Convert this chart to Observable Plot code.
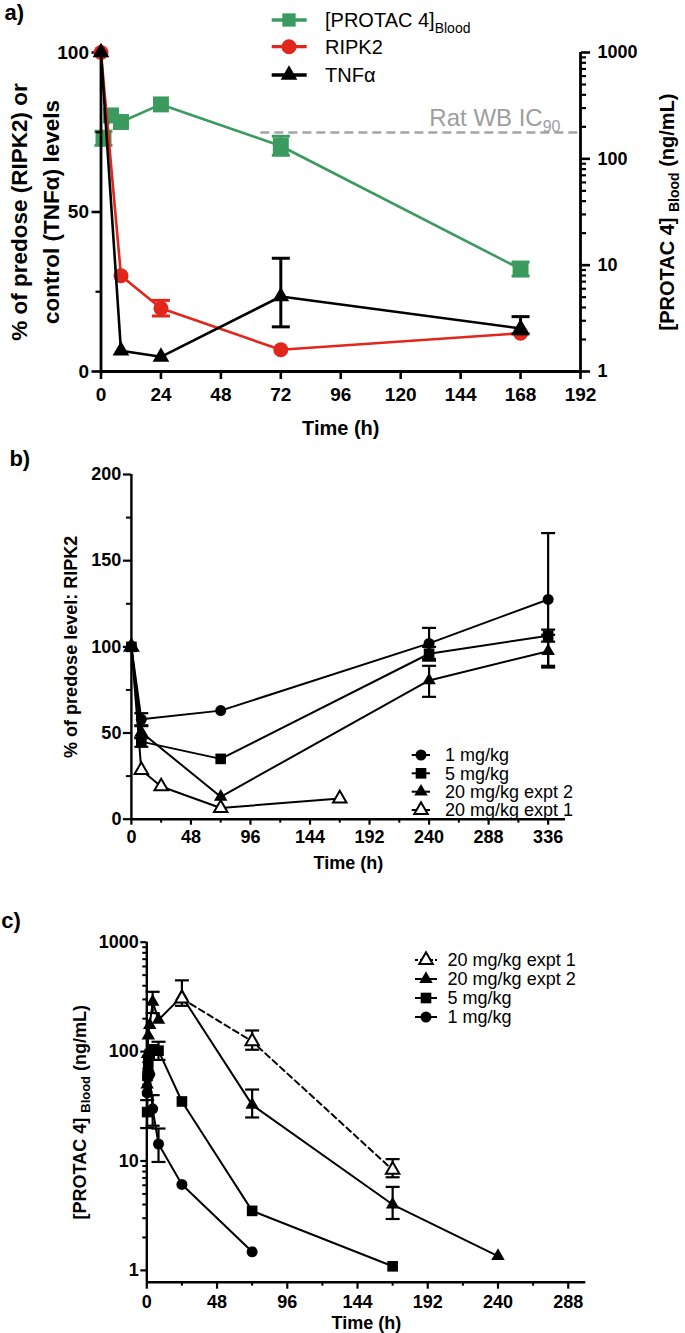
<!DOCTYPE html>
<html><head><meta charset="utf-8">
<script src="https://cdn.jsdelivr.net/npm/d3@7"></script>
<script src="https://cdn.jsdelivr.net/npm/@observablehq/plot@0.6"></script>
<style>
html,body{margin:0;padding:0;background:#fff;overflow:hidden}
#root{position:relative;width:685px;height:1333px;background:#fff}
</style></head>
<body><div id="root"></div>
<script>
// ---------- Panel a data ----------
const aTimes = [0, 8, 24, 72, 168];
const aRipk2 = [100, 30, 19.8, 6.8, 12];
const aRipk2Lo = [null, null, 17.4, null, null];
const aRipk2Hi = [null, null, 22.3, null, null];
const aTnf = [100, 6.5, 4.6, 23.5, 13.5];
const aTnfLo = [null, null, null, 14, 11.8];
const aTnfHi = [null, null, null, 35.5, 17.2];
const aProtacTimes = [1, 4, 8, 24, 72, 168];
const aProtac = [157, 256, 222, 325, 132, 9.2];
const aProtacLo = [134, null, null, null, 108, 7.9];
const aProtacHi = [182, null, null, null, 163, 10.7];
const aIC90 = 177;
const aIC90From = 64;
const aXTicks = [0, 24, 48, 72, 96, 120, 144, 168, 192];
const aYTicks = [0, 50, 100];
const aYMinor = [25, 75];
const aLogTicks = [1, 10, 100, 1000];
const aLogMinor = [2,3,4,5,6,7,8,9,20,30,40,50,60,70,80,90,200,300,400,500,600,700,800,900];
const aLegendLabels = ["[PROTAC 4]", "RIPK2", "TNFα"];

// ---------- Panel b data ----------
const bTimes = [0, 8, 72, 240, 336];
const b1 = [100, 58, 63, 102, 127.5];
const b1Lo = [null, 54.5, null, 93, 89];
const b1Hi = [null, 61.5, null, 111, 166];
const b5 = [100, 45, 35, 96, 106.5];
const b5Lo = [null, 42, null, 92, 103];
const b5Hi = [null, 47.5, null, 100, 110];
const b20e2 = [100, 50.5, 13, 80.5, 97.5];
const b20e2Lo = [null, 47, null, 71, 88];
const b20e2Hi = [null, 54, null, 89, 107];
const bTimesE1 = [0, 8, 24, 72, 168];
const b20e1 = [100, 28.5, 19, 6.5, 12];
const bXTicks = [0, 48, 96, 144, 192, 240, 288, 336];
const bXMinor = [24, 72, 120, 168, 216, 264, 312];
const bYTicks = [0, 50, 100, 150, 200];
const bYMinor = [25, 75, 125, 175];
const bLegendLabels = ["1 mg/kg", "5 mg/kg", "20 mg/kg expt 2", "20 mg/kg expt 1"];

// ---------- Panel c data ----------
const cTimesE1 = [24, 72, 168];
const c20e1 = [305, 124, 8.3];
const c20e1Lo = [null, 104, 7.1];
const c20e1Hi = [null, 156, 10.4];
const cTimesE2 = [0.25, 0.5, 1, 2, 4, 8, 24, 72, 168, 240];
const c20e2 = [50, 95, 140, 175, 285, 195, 320, 32.6, 4.0, 1.35];
const c20e2Lo = [null, null, null, null, 225, null, 262, 25, 2.95, null];
const c20e2Hi = [null, null, null, null, 352, null, 448, 45, 5.8, null];
const cTimes5 = [0.25, 0.5, 1, 2, 4, 8, 24, 72, 168];
const c5 = [28, 60, 80, 95, 105, 102, 35, 3.5, 1.09];
const c5Lo = [20, null, null, null, null, 84, null, null, null];
const c5Hi = [36, null, null, null, null, 123, null, null, null];
const cTimes1 = [0.25, 0.5, 1, 2, 4, 8, 24, 72];
const c1 = [42, 58, 68, 62, 30, 14.3, 6.1, 1.48];
const c1Lo = [null, null, null, null, 21, 9.8, null, null];
const c1Hi = [null, null, null, null, 40, 19.8, null, null];
const cXTicks = [0, 48, 96, 144, 192, 240, 288];
const cXMinor = [24, 72, 120, 168, 216, 264];
const cYTicks = [1, 10, 100, 1000];
const cYMinor = [2,3,4,5,6,7,8,9,20,30,40,50,60,70,80,90,200,300,400,500,600,700,800,900];
const cLegendLabels = ["20 mg/kg expt 1", "20 mg/kg expt 2", "5 mg/kg", "1 mg/kg"];

// ---------- helpers ----------
const FONT = '"Liberation Sans", Arial, Helvetica, sans-serif';
const GREEN = "#3b9b5f";
const RED = "#e1261c";
const DASHGREY = "#a5a5a5";
const STYLE = {fontFamily: FONT, fontWeight: "bold", color: "black", background: "transparent", overflow: "visible"};
const root = document.getElementById("root");

function rows(times, vals, lo, hi) {
  return times.map((t, i) => ({t, v: vals[i], lo: lo ? lo[i] : null, hi: hi ? hi[i] : null}));
}
const CAP = {draw(ctx, size) { const w = Math.sqrt(size / Math.PI); ctx.moveTo(-w, 0); ctx.lineTo(w, 0); }};
function errMarks(data, {stroke = "black", strokeWidth = 2.2, half = 7} = {}) {
  const e = data.filter(d => d.lo != null && d.hi != null);
  return [
    Plot.link(e, {x1: "t", x2: "t", y1: "lo", y2: "hi", stroke, strokeWidth}),
    Plot.dot(e, {x: "t", y: "lo", symbol: CAP, r: half, stroke, strokeWidth, fill: "none"}),
    Plot.dot(e, {x: "t", y: "hi", symbol: CAP, r: half, stroke, strokeWidth, fill: "none"})
  ];
}
function place(svg, top) {
  svg.style.position = "absolute";
  svg.style.left = "0px";
  svg.style.top = top + "px";
  root.appendChild(svg);
}
// add subscript tspans to a text element found by its content
function subscript(svg, content, parts) {
  d3.select(svg).selectAll("text").filter(function() {
    return this.textContent.trim() === content;
  }).each(function() {
    const t = d3.select(this);
    t.selectAll("*").remove();
    t.text(null);
    parts.forEach(p => {
      const s = t.append("tspan").text(p.text);
      if (p.size) s.attr("font-size", p.size);
      if (p.dy) s.attr("dy", p.dy);
    });
  });
}

// ---------- Panel a ----------
const aR = rows(aTimes, aRipk2, aRipk2Lo, aRipk2Hi);
const aT = rows(aTimes, aTnf, aTnfLo, aTnfHi);
const aP = rows(aProtacTimes, aProtac, aProtacLo, aProtacHi);
const aMarg = {width: 685, height: 445, marginLeft: 100.5, marginRight: 105, marginTop: 52, marginBottom: 74};

const aLog = Plot.plot({
  ...aMarg, style: STYLE,
  x: {domain: [0, 192], axis: null},
  y: {type: "log", domain: [1, 1000]},
  marks: [
    Plot.axisY({anchor: "right", ticks: aLogMinor, tickSize: 5, tickFormat: () => "", strokeWidth: 2.2, label: null}),
    Plot.axisY({anchor: "right", ticks: aLogTicks, tickSize: 9, tickPadding: 8, tickFormat: d => String(d), strokeWidth: 2.6, fontSize: 18, label: null}),
    Plot.ruleX([192], {strokeWidth: 2.8}),
    Plot.ruleY([aIC90], {x1: aIC90From, x2: 192, stroke: DASHGREY, strokeWidth: 2.6, strokeDasharray: "9,5"}),
    Plot.text([{t: 192, v: aIC90}], {x: "t", y: "v", text: () => "Rat WB IC", dx: -20, dy: -6.5, textAnchor: "end", lineAnchor: "bottom", fill: "#9e9e9e", fontSize: 24, fontWeight: "normal"}),
    Plot.line(aP, {x: "t", y: "v", stroke: GREEN, strokeWidth: 2.6}),
    ...errMarks(aP, {stroke: GREEN, strokeWidth: 3, half: 9}),
    Plot.dot(aP, {x: "t", y: "v", symbol: "square", r: 9, fill: GREEN}),
    Plot.text(["[PROTAC 4]"], {text: d => d, frameAnchor: "right", dx: 87, rotate: -90, textAnchor: "middle", lineAnchor: "middle", fontSize: 20})
  ]
});
subscript(aLog, "Rat WB IC", [{text: "Rat WB IC"}, {text: "90", size: 16, dy: 6}]);
subscript(aLog, "[PROTAC 4]", [{text: "[PROTAC 4] "}, {text: "Blood", size: 14, dy: 5}, {text: " (ng/mL)", size: 20, dy: -5}]);
place(aLog, 0);

const aLin = Plot.plot({
  ...aMarg, style: STYLE,
  x: {domain: [0, 192]},
  y: {domain: [0, 100]},
  marks: [
    Plot.axisY({ticks: aYMinor, tickSize: 5, tickFormat: () => "", strokeWidth: 2.2, label: null}),
    Plot.axisY({ticks: aYTicks, tickSize: 9, tickPadding: 3, strokeWidth: 2.6, fontSize: 19, label: null}),
    Plot.axisX({ticks: aXTicks, tickSize: 8, tickPadding: 8, strokeWidth: 2.6, fontSize: 19, label: null}),
    Plot.ruleX([0], {strokeWidth: 2.8}),
    Plot.ruleY([0], {strokeWidth: 2.8}),
    Plot.line(aR, {x: "t", y: "v", stroke: RED, strokeWidth: 2.6}),
    ...errMarks(aR, {stroke: RED, strokeWidth: 3, half: 9}),
    Plot.dot(aR, {x: "t", y: "v", symbol: "circle", r: 7.5, fill: RED}),
    Plot.line(aT, {x: "t", y: "v", stroke: "black", strokeWidth: 2.6}),
    ...errMarks(aT, {stroke: "black", strokeWidth: 3, half: 9}),
    Plot.dot(aT, {x: "t", y: "v", symbol: "triangle", r: 6.2, fill: "black"}),
    Plot.text(["a)"], {text: d => d, frameAnchor: "top-left", dx: -96.5, dy: -40, fontSize: 22, textAnchor: "start", lineAnchor: "middle"}),
    Plot.text(["Time (h)"], {text: d => d, frameAnchor: "bottom", dy: 57, fontSize: 20, lineAnchor: "middle"}),
    Plot.text(["% of predose (RIPK2) or\ncontrol (TNFα) levels"], {text: d => d, frameAnchor: "left", dx: -68, rotate: -90, fontSize: 22.5, lineHeight: 1.4, lineAnchor: "middle", textAnchor: "middle"})
  ]
});
place(aLin, 0);

// ---------- Panel b ----------
const bR1 = rows(bTimes, b1, b1Lo, b1Hi);
const bR5 = rows(bTimes, b5, b5Lo, b5Hi);
const bR20 = rows(bTimes, b20e2, b20e2Lo, b20e2Hi);
const bRE1 = rows(bTimesE1, b20e1);
const bPlot = Plot.plot({
  width: 685, height: 430, marginLeft: 130.9, marginRight: 120, marginTop: 29, marginBottom: 56.3,
  style: STYLE,
  x: {domain: [0, 350]},
  y: {domain: [0, 200]},
  marks: [
    Plot.axisY({ticks: bYMinor, tickSize: 5, tickFormat: () => "", strokeWidth: 2, label: null}),
    Plot.axisY({ticks: bYTicks, tickSize: 8, tickPadding: 2, strokeWidth: 2.2, fontSize: 18, label: null}),
    Plot.axisX({ticks: bXMinor, tickSize: 4, tickFormat: () => "", strokeWidth: 2, label: null}),
    Plot.axisX({ticks: bXTicks, tickSize: 6, tickPadding: 5, strokeWidth: 2.2, fontSize: 18, label: null}),
    Plot.ruleX([0], {strokeWidth: 2.4}),
    Plot.ruleY([0], {strokeWidth: 2.4}),
    Plot.line(bRE1, {x: "t", y: "v", stroke: "black", strokeWidth: 2}),
    Plot.line(bR20, {x: "t", y: "v", stroke: "black", strokeWidth: 2}),
    Plot.line(bR5, {x: "t", y: "v", stroke: "black", strokeWidth: 2}),
    Plot.line(bR1, {x: "t", y: "v", stroke: "black", strokeWidth: 2}),
    ...errMarks(bR1, {strokeWidth: 2.2, half: 7}),
    ...errMarks(bR5, {strokeWidth: 2.2, half: 7}),
    ...errMarks(bR20, {strokeWidth: 2.2, half: 7}),
    Plot.dot(bRE1, {x: "t", y: "v", symbol: "triangle", r: 5, fill: "white", stroke: "black", strokeWidth: 2}),
    Plot.dot(bR20, {x: "t", y: "v", symbol: "triangle", r: 5, fill: "black"}),
    Plot.dot(bR5, {x: "t", y: "v", symbol: "square", r: 6, fill: "black"}),
    Plot.dot(bR1, {x: "t", y: "v", symbol: "circle", r: 5.5, fill: "black"}),
    Plot.text(["b)"], {text: d => d, frameAnchor: "top-left", dx: -122, dy: -16, fontSize: 22, textAnchor: "start", lineAnchor: "middle"}),
    Plot.text(["Time (h)"], {text: d => d, frameAnchor: "bottom", dy: 44.3, fontSize: 18, lineAnchor: "middle"}),
    Plot.text(["% of predose level: RIPK2"], {text: d => d, frameAnchor: "left", dx: -60, rotate: -90, fontSize: 18, lineAnchor: "middle", textAnchor: "middle"})
  ]
});
place(bPlot, 445);

// ---------- Panel c ----------
const cRE1 = rows(cTimesE1, c20e1, c20e1Lo, c20e1Hi);
const cRE2 = rows(cTimesE2, c20e2, c20e2Lo, c20e2Hi);
const cR5 = rows(cTimes5, c5, c5Lo, c5Hi);
const cR1 = rows(cTimes1, c1, c1Lo, c1Hi);
const cPlot = Plot.plot({
  width: 685, height: 458, marginLeft: 146.3, marginRight: 99.7, marginTop: 66.7, marginBottom: 51.3,
  style: STYLE,
  x: {domain: [0, 300]},
  y: {type: "log", domain: [0.78, 1000]},
  marks: [
    Plot.axisY({ticks: cYMinor, tickSize: 4, tickFormat: () => "", strokeWidth: 2, label: null}),
    Plot.axisY({ticks: cYTicks, tickSize: 6, tickPadding: 2, tickFormat: d => String(d), strokeWidth: 2.2, fontSize: 18, label: null}),
    Plot.axisX({ticks: cXMinor, tickSize: 4, tickFormat: () => "", strokeWidth: 2, label: null}),
    Plot.axisX({ticks: cXTicks, tickSize: 7, tickPadding: 6, strokeWidth: 2.2, fontSize: 18, label: null}),
    Plot.ruleX([0], {strokeWidth: 2.4}),
    Plot.ruleY([0.78], {strokeWidth: 2.4}),
    Plot.line(cRE1, {x: "t", y: "v", stroke: "black", strokeWidth: 2, strokeDasharray: "6,4"}),
    Plot.line(cRE2, {x: "t", y: "v", stroke: "black", strokeWidth: 2}),
    Plot.line(cR5, {x: "t", y: "v", stroke: "black", strokeWidth: 2}),
    Plot.line(cR1, {x: "t", y: "v", stroke: "black", strokeWidth: 2}),
    ...errMarks(cRE2, {strokeWidth: 2.2, half: 7}),
    ...errMarks(cR5, {strokeWidth: 2.2, half: 7}),
    ...errMarks(cR1, {strokeWidth: 2.2, half: 7}),
    ...errMarks(cRE1, {strokeWidth: 2.2, half: 7}),
    Plot.dot(cR1, {x: "t", y: "v", symbol: "circle", r: 5.5, fill: "black"}),
    Plot.dot(cR5, {x: "t", y: "v", symbol: "square", r: 6, fill: "black"}),
    Plot.dot(cRE2, {x: "t", y: "v", symbol: "triangle", r: 5, fill: "black"}),
    Plot.dot(cRE1, {x: "t", y: "v", symbol: "triangle", r: 5, fill: "white", stroke: "black", strokeWidth: 2}),
    Plot.text(["c)"], {text: d => d, frameAnchor: "top-left", dx: -145.5, dy: -21.7, fontSize: 22, textAnchor: "start", lineAnchor: "middle"}),
    Plot.text(["Time (h)"], {text: d => d, frameAnchor: "bottom", dy: 41.3, fontSize: 18, lineAnchor: "middle"}),
    Plot.text(["[PROTAC 4]"], {text: d => d, frameAnchor: "left", dx: -67, rotate: -90, fontSize: 18, lineAnchor: "middle", textAnchor: "middle"})
  ]
});
subscript(cPlot, "[PROTAC 4]", [{text: "[PROTAC 4] "}, {text: "Blood", size: 13, dy: 4}, {text: " (ng/mL)", size: 18, dy: -4}]);
place(cPlot, 875);

// ---------- Legends (overlay) ----------
const leg = d3.create("svg").attr("width", 685).attr("height", 1333)
  .style("position", "absolute").style("left", "0px").style("top", "0px")
  .style("font-family", FONT).style("pointer-events", "none");
function drawLegend(items, o) {
  items.forEach((it, i) => {
    const y = o.ys[i];
    leg.append("line").attr("x1", o.x0).attr("x2", o.x1).attr("y1", y).attr("y2", y)
      .attr("stroke", it.line).attr("stroke-width", o.lw).attr("stroke-dasharray", it.dash || null);
    leg.append("path").attr("transform", `translate(${o.xm},${y})`)
      .attr("d", d3.symbol().type(it.sym).size(Math.PI * it.r * it.r)())
      .attr("fill", it.fill).attr("stroke", it.stroke || "none").attr("stroke-width", it.sw || 0);
    const t = leg.append("text").attr("x", o.xt).attr("y", y).attr("dy", "0.36em")
      .attr("font-size", o.fs).attr("fill", "black").text(it.label);
    if (it.sub) t.append("tspan").attr("font-size", o.fs * 0.7).attr("dy", 6).text(it.sub);
  });
}
drawLegend([
  {label: aLegendLabels[0], sub: "Blood", sym: d3.symbolSquare, r: 7.5, fill: GREEN, line: GREEN},
  {label: aLegendLabels[1], sym: d3.symbolCircle, r: 7.5, fill: RED, line: RED},
  {label: aLegendLabels[2], sym: d3.symbolTriangle, r: 6.2, fill: "black", line: "black"}
], {ys: [20, 46.7, 75], x0: 271.7, x1: 306.7, xm: 289, xt: 325, fs: 20, lw: 3.3});
drawLegend([
  {label: bLegendLabels[0], sym: d3.symbolCircle, r: 5.5, fill: "black", line: "black"},
  {label: bLegendLabels[1], sym: d3.symbolSquare, r: 6, fill: "black", line: "black"},
  {label: bLegendLabels[2], sym: d3.symbolTriangle, r: 5, fill: "black", line: "black"},
  {label: bLegendLabels[3], sym: d3.symbolTriangle, r: 5, fill: "white", stroke: "black", sw: 2, line: "black"}
], {ys: [755, 773.3, 791.7, 810], x0: 411.7, x1: 430, xm: 421, xt: 445, fs: 18, lw: 2});
drawLegend([
  {label: cLegendLabels[0], sym: d3.symbolTriangle, r: 5, fill: "white", stroke: "black", sw: 2, line: "black", dash: "3,2"},
  {label: cLegendLabels[1], sym: d3.symbolTriangle, r: 5, fill: "black", line: "black"},
  {label: cLegendLabels[2], sym: d3.symbolSquare, r: 6, fill: "black", line: "black"},
  {label: cLegendLabels[3], sym: d3.symbolCircle, r: 5.5, fill: "black", line: "black"}
], {ys: [960, 979, 998, 1017], x0: 415, x1: 437, xm: 426, xt: 447.6, fs: 18, lw: 2});
root.appendChild(leg.node());
</script>
</body></html>
